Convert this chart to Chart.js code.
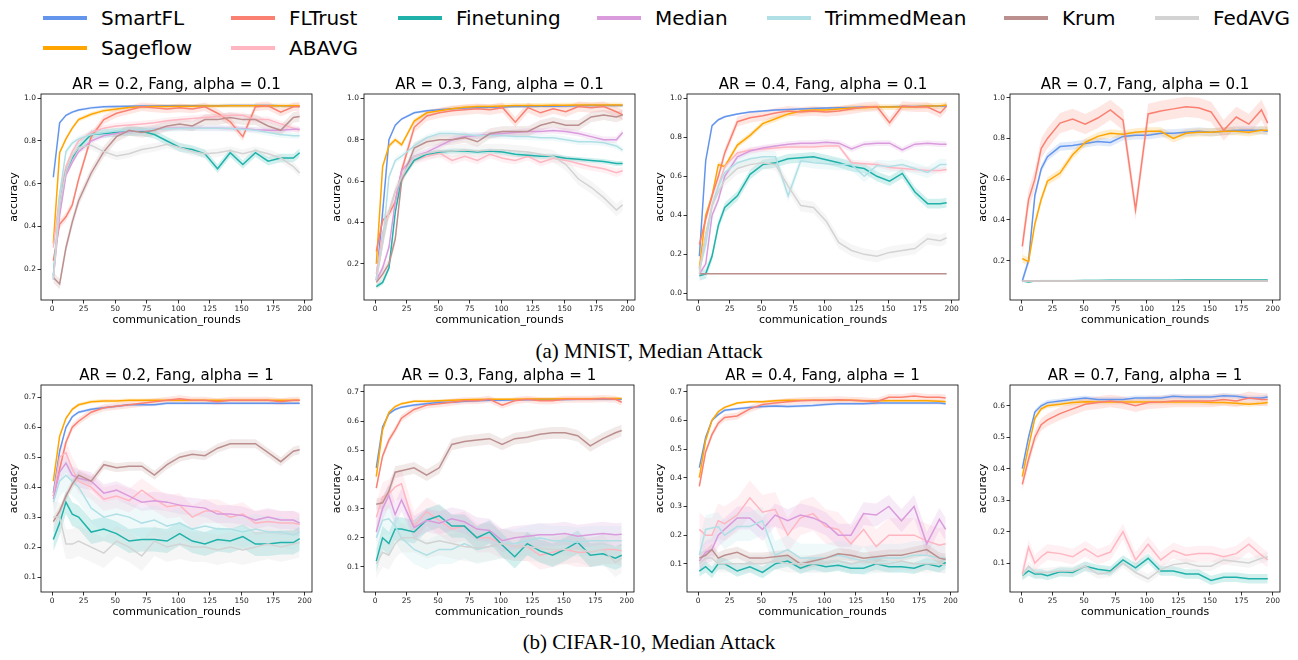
<!DOCTYPE html>
<html>
<head>
<meta charset="utf-8">
<script src="https://cdn.jsdelivr.net/npm/chart.js@4.4.1/dist/chart.umd.min.js"></script>
<style>
body { margin: 0; background: #fff; width: 1298px; height: 660px; position: relative; overflow: hidden; font-family: "DejaVu Sans", sans-serif; }
canvas { position: absolute; }
.leg { position: absolute; font-size: 20px; line-height: 24px; color: #000; white-space: nowrap; }
.leg i { position: absolute; left: -58px; top: 10px; width: 44px; height: 4px; }
.cap { position: absolute; left: 0; width: 1298px; text-align: center; font-family: "Liberation Serif", "Times New Roman", serif; font-size: 21px; color: #000; }
</style>
</head>
<body>
<div class="cap" style="top:339px">(a) MNIST, Median Attack</div>
<div class="cap" style="top:630px">(b) CIFAR-10, Median Attack</div>
<script>
var rounds = [1, 6, 11, 16, 21, 31, 41, 51, 61, 71, 81, 91, 101, 111, 121, 131, 141, 151, 161, 171, 181, 191, 196];
var xTicks = [0, 25, 50, 75, 100, 125, 150, 175, 200];
var yTicksMnist = [0.2, 0.4, 0.6, 0.8, 1.0];
var yTicksMnist04 = [0.0, 0.2, 0.4, 0.6, 0.8, 1.0];
var yTicksCifar = [0.1, 0.2, 0.3, 0.4, 0.5, 0.6, 0.7];
var yTicksCifar07 = [0.1, 0.2, 0.3, 0.4, 0.5, 0.6];

// series order in every table below
var methods = ['SmartFL', 'Sageflow', 'FLTrust', 'ABAVG', 'Finetuning', 'Median', 'TrimmedMean', 'Krum', 'FedAVG'];
var titles = ['AR = 0.2, Fang, alpha = 0.1', 'AR = 0.3, Fang, alpha = 0.1', 'AR = 0.4, Fang, alpha = 0.1', 'AR = 0.7, Fang, alpha = 0.1',
	'AR = 0.2, Fang, alpha = 1', 'AR = 0.3, Fang, alpha = 1', 'AR = 0.4, Fang, alpha = 1', 'AR = 0.7, Fang, alpha = 1'];

var mnist02 = [
	[0.63,0.885,0.92,0.935,0.945,0.955,0.96,0.962,0.963,0.964,0.964,0.965,0.965,0.965,0.965,0.965,0.966,0.966,0.966,0.966,0.965,0.964,0.962],
	[0.32,0.745,0.81,0.86,0.9,0.925,0.942,0.95,0.957,0.96,0.962,0.962,0.963,0.963,0.964,0.964,0.965,0.965,0.965,0.965,0.965,0.965,0.965],
	[0.24,0.41,0.445,0.5,0.62,0.82,0.9,0.93,0.945,0.96,0.955,0.95,0.955,0.95,0.96,0.93,0.89,0.82,0.96,0.965,0.935,0.96,0.962],
	[0.3,0.55,0.68,0.75,0.8,0.84,0.86,0.87,0.875,0.88,0.885,0.895,0.9,0.905,0.91,0.915,0.92,0.92,0.9,0.9,0.88,0.86,0.85],
	[0.17,0.5,0.66,0.72,0.77,0.83,0.835,0.84,0.845,0.845,0.83,0.8,0.77,0.76,0.74,0.67,0.745,0.69,0.745,0.705,0.72,0.72,0.745],
	[0.16,0.45,0.64,0.7,0.75,0.8,0.825,0.835,0.845,0.85,0.855,0.86,0.86,0.86,0.86,0.86,0.858,0.858,0.852,0.85,0.85,0.855,0.855],
	[0.15,0.55,0.75,0.79,0.81,0.83,0.84,0.848,0.85,0.853,0.855,0.857,0.858,0.86,0.86,0.86,0.858,0.855,0.85,0.84,0.83,0.825,0.825],
	[0.16,0.13,0.3,0.42,0.52,0.65,0.75,0.82,0.85,0.84,0.85,0.87,0.88,0.87,0.9,0.9,0.91,0.9,0.9,0.87,0.85,0.91,0.915],
	[0.15,0.5,0.66,0.73,0.77,0.78,0.75,0.73,0.74,0.76,0.77,0.785,0.77,0.75,0.74,0.745,0.755,0.74,0.755,0.74,0.72,0.68,0.65]
];
var mnist02Spread = [0.006, 0.01, 0.02, 0.015, 0.02, 0.012, 0.015, 0.025, 0.02];

var mnist03 = [
	[0.12,0.45,0.8,0.87,0.9,0.93,0.94,0.945,0.95,0.953,0.955,0.957,0.958,0.96,0.96,0.962,0.962,0.963,0.964,0.965,0.965,0.965,0.965],
	[0.2,0.67,0.77,0.8,0.775,0.89,0.93,0.94,0.95,0.957,0.96,0.96,0.963,0.965,0.966,0.966,0.967,0.967,0.968,0.968,0.968,0.968,0.968],
	[0.26,0.41,0.44,0.5,0.65,0.86,0.915,0.93,0.94,0.945,0.95,0.945,0.955,0.885,0.955,0.93,0.95,0.935,0.96,0.955,0.96,0.935,0.92],
	[0.15,0.35,0.45,0.55,0.62,0.7,0.72,0.735,0.7,0.72,0.7,0.73,0.71,0.7,0.72,0.69,0.71,0.7,0.685,0.67,0.66,0.64,0.65],
	[0.09,0.11,0.18,0.45,0.61,0.7,0.73,0.74,0.745,0.745,0.74,0.745,0.74,0.73,0.725,0.72,0.72,0.71,0.705,0.7,0.695,0.685,0.685],
	[0.12,0.18,0.28,0.5,0.65,0.72,0.74,0.77,0.8,0.815,0.82,0.825,0.83,0.835,0.84,0.84,0.845,0.84,0.83,0.815,0.8,0.8,0.835],
	[0.13,0.3,0.62,0.7,0.72,0.77,0.81,0.83,0.83,0.825,0.82,0.82,0.82,0.815,0.815,0.81,0.81,0.8,0.79,0.79,0.785,0.77,0.75],
	[0.11,0.15,0.2,0.32,0.6,0.76,0.79,0.8,0.8,0.81,0.79,0.83,0.84,0.84,0.84,0.87,0.885,0.87,0.87,0.91,0.92,0.91,0.92],
	[0.12,0.3,0.45,0.55,0.62,0.72,0.735,0.745,0.745,0.75,0.745,0.75,0.75,0.745,0.74,0.73,0.72,0.68,0.61,0.57,0.52,0.46,0.485]
];
var mnist03Spread = [0.006, 0.012, 0.025, 0.02, 0.012, 0.015, 0.015, 0.025, 0.03];

var mnist04 = [
	[0.19,0.68,0.86,0.89,0.905,0.92,0.93,0.935,0.94,0.942,0.945,0.948,0.95,0.952,0.953,0.955,0.956,0.957,0.958,0.958,0.96,0.96,0.96],
	[0.13,0.4,0.5,0.66,0.65,0.76,0.81,0.87,0.895,0.92,0.935,0.94,0.94,0.945,0.95,0.952,0.955,0.955,0.955,0.957,0.96,0.962,0.965],
	[0.25,0.38,0.5,0.6,0.72,0.88,0.9,0.91,0.925,0.935,0.93,0.935,0.93,0.935,0.945,0.955,0.958,0.875,0.96,0.955,0.955,0.925,0.96],
	[0.12,0.3,0.45,0.55,0.65,0.72,0.735,0.74,0.745,0.75,0.75,0.75,0.755,0.755,0.67,0.665,0.66,0.645,0.64,0.635,0.63,0.63,0.635],
	[0.09,0.1,0.19,0.35,0.44,0.5,0.61,0.66,0.67,0.69,0.695,0.7,0.685,0.67,0.65,0.64,0.6,0.575,0.615,0.52,0.46,0.46,0.465],
	[0.1,0.15,0.4,0.48,0.6,0.7,0.73,0.745,0.755,0.765,0.77,0.77,0.775,0.77,0.74,0.765,0.77,0.77,0.735,0.765,0.77,0.765,0.765],
	[0.12,0.25,0.45,0.55,0.62,0.67,0.69,0.7,0.7,0.5,0.68,0.67,0.665,0.66,0.66,0.6,0.655,0.65,0.66,0.64,0.62,0.66,0.66],
	[0.1,0.1,0.1,0.1,0.1,0.1,0.1,0.1,0.1,0.1,0.1,0.1,0.1,0.1,0.1,0.1,0.1,0.1,0.1,0.1,0.1,0.1,0.1],
	[0.1,0.3,0.45,0.52,0.58,0.64,0.66,0.67,0.66,0.55,0.45,0.44,0.37,0.26,0.22,0.2,0.19,0.21,0.22,0.23,0.28,0.27,0.285]
];
var mnist04Spread = [0.005, 0.015, 0.025, 0.015, 0.025, 0.015, 0.03, 0.002, 0.03];

var mnist07 = [
	[0.1,0.2,0.52,0.65,0.71,0.76,0.765,0.775,0.785,0.78,0.81,0.815,0.815,0.825,0.825,0.83,0.835,0.83,0.835,0.84,0.84,0.84,0.835],
	[0.21,0.195,0.38,0.5,0.59,0.63,0.72,0.78,0.81,0.825,0.82,0.83,0.835,0.835,0.8,0.825,0.83,0.83,0.835,0.835,0.83,0.84,0.84],
	[0.27,0.5,0.6,0.75,0.8,0.875,0.895,0.87,0.9,0.94,0.89,0.45,0.92,0.935,0.945,0.955,0.95,0.93,0.84,0.905,0.87,0.94,0.875],
	[0.1,0.1,0.1,0.1,0.1,0.1,0.1,0.1,0.1,0.1,0.1,0.1,0.1,0.1,0.1,0.1,0.1,0.1,0.1,0.1,0.1,0.1,0.1],
	[0.1,0.095,0.1,0.102,0.102,0.102,0.102,0.103,0.103,0.104,0.104,0.104,0.104,0.104,0.104,0.105,0.105,0.105,0.105,0.105,0.105,0.105,0.105],
	[0.1,0.1,0.1,0.1,0.1,0.1,0.1,0.1,0.1,0.1,0.1,0.1,0.1,0.1,0.1,0.1,0.1,0.1,0.1,0.1,0.1,0.1,0.1],
	[0.1,0.1,0.1,0.1,0.1,0.1,0.1,0.1,0.1,0.1,0.1,0.1,0.1,0.1,0.1,0.1,0.1,0.1,0.1,0.1,0.1,0.1,0.1],
	[0.1,0.1,0.1,0.1,0.1,0.1,0.1,0.1,0.1,0.1,0.1,0.1,0.1,0.1,0.1,0.1,0.1,0.1,0.1,0.1,0.1,0.1,0.1],
	[0.1,0.1,0.1,0.1,0.1,0.1,0.1,0.1,0.1,0.1,0.1,0.1,0.1,0.1,0.1,0.1,0.1,0.1,0.1,0.1,0.1,0.1,0.1]
];
var mnist07Spread = [0.02, 0.02, 0.05, 0.005, 0.004, 0.003, 0.003, 0.003, 0.005];

var cifar02 = [
	[0.38,0.52,0.6,0.635,0.65,0.66,0.665,0.67,0.675,0.675,0.675,0.68,0.68,0.68,0.68,0.68,0.68,0.68,0.68,0.68,0.68,0.68,0.68],
	[0.42,0.57,0.63,0.66,0.675,0.685,0.688,0.688,0.69,0.69,0.69,0.69,0.69,0.69,0.69,0.69,0.69,0.69,0.69,0.69,0.69,0.69,0.69],
	[0.37,0.46,0.55,0.6,0.62,0.65,0.665,0.67,0.675,0.68,0.685,0.69,0.695,0.69,0.69,0.685,0.69,0.69,0.69,0.69,0.685,0.69,0.69],
	[0.37,0.5,0.515,0.46,0.42,0.4,0.36,0.37,0.355,0.39,0.36,0.335,0.34,0.3,0.32,0.32,0.3,0.31,0.28,0.285,0.28,0.28,0.275],
	[0.225,0.28,0.35,0.31,0.3,0.25,0.26,0.245,0.22,0.225,0.225,0.22,0.245,0.22,0.21,0.225,0.22,0.235,0.21,0.21,0.215,0.215,0.228],
	[0.36,0.45,0.48,0.44,0.43,0.42,0.38,0.39,0.37,0.35,0.355,0.35,0.34,0.335,0.33,0.31,0.31,0.305,0.29,0.3,0.29,0.29,0.28],
	[0.35,0.42,0.44,0.42,0.4,0.33,0.3,0.31,0.3,0.28,0.29,0.27,0.28,0.26,0.27,0.26,0.26,0.25,0.26,0.25,0.25,0.24,0.25],
	[0.285,0.32,0.37,0.41,0.44,0.42,0.475,0.465,0.47,0.47,0.44,0.475,0.5,0.51,0.505,0.53,0.545,0.545,0.545,0.515,0.485,0.52,0.525],
	[0.3,0.3,0.21,0.21,0.22,0.2,0.18,0.22,0.2,0.17,0.22,0.2,0.21,0.2,0.2,0.19,0.2,0.19,0.2,0.21,0.2,0.21,0.215]
];
var cifar02Spread = [0.005, 0.006, 0.012, 0.04, 0.04, 0.03, 0.05, 0.015, 0.05];

var cifar03 = [
	[0.44,0.58,0.625,0.64,0.648,0.655,0.66,0.665,0.665,0.668,0.67,0.672,0.672,0.673,0.673,0.674,0.674,0.674,0.675,0.675,0.675,0.675,0.675],
	[0.41,0.57,0.63,0.65,0.66,0.668,0.668,0.67,0.672,0.673,0.674,0.675,0.675,0.675,0.676,0.676,0.676,0.677,0.677,0.677,0.678,0.678,0.678],
	[0.37,0.48,0.535,0.57,0.61,0.64,0.655,0.66,0.665,0.67,0.67,0.675,0.655,0.67,0.675,0.67,0.67,0.675,0.675,0.675,0.678,0.675,0.665],
	[0.27,0.34,0.35,0.375,0.385,0.24,0.29,0.26,0.23,0.24,0.2,0.2,0.18,0.17,0.17,0.14,0.15,0.16,0.15,0.15,0.16,0.16,0.155],
	[0.12,0.2,0.18,0.23,0.23,0.22,0.26,0.275,0.24,0.24,0.2,0.22,0.175,0.135,0.18,0.155,0.14,0.16,0.185,0.14,0.145,0.13,0.14],
	[0.22,0.3,0.345,0.28,0.33,0.235,0.26,0.25,0.265,0.255,0.23,0.225,0.19,0.2,0.205,0.21,0.21,0.215,0.205,0.21,0.215,0.21,0.212],
	[0.2,0.26,0.265,0.24,0.2,0.16,0.14,0.16,0.16,0.18,0.16,0.17,0.18,0.18,0.19,0.2,0.19,0.19,0.185,0.19,0.19,0.19,0.19],
	[0.315,0.32,0.36,0.425,0.43,0.44,0.415,0.44,0.52,0.53,0.535,0.54,0.52,0.54,0.545,0.555,0.56,0.56,0.55,0.515,0.54,0.56,0.568],
	[0.11,0.15,0.14,0.18,0.2,0.2,0.18,0.19,0.18,0.17,0.165,0.17,0.18,0.17,0.17,0.165,0.16,0.16,0.165,0.15,0.16,0.115,0.13]
];
var cifar03Spread = [0.005, 0.005, 0.012, 0.05, 0.04, 0.04, 0.05, 0.02, 0.05];

var cifar04 = [
	[0.435,0.54,0.6,0.62,0.635,0.64,0.645,0.648,0.65,0.648,0.65,0.652,0.655,0.658,0.658,0.658,0.66,0.66,0.66,0.66,0.66,0.66,0.658],
	[0.4,0.53,0.6,0.63,0.645,0.66,0.665,0.665,0.668,0.67,0.67,0.67,0.67,0.67,0.67,0.668,0.668,0.668,0.668,0.668,0.668,0.666,0.665],
	[0.37,0.49,0.55,0.59,0.61,0.615,0.64,0.655,0.66,0.665,0.668,0.67,0.67,0.672,0.67,0.668,0.665,0.68,0.68,0.685,0.68,0.68,0.678],
	[0.22,0.2,0.2,0.25,0.24,0.27,0.33,0.28,0.29,0.2,0.26,0.275,0.23,0.22,0.17,0.22,0.16,0.2,0.2,0.2,0.18,0.165,0.17],
	[0.075,0.09,0.07,0.1,0.1,0.075,0.09,0.07,0.1,0.11,0.085,0.1,0.09,0.095,0.085,0.085,0.1,0.09,0.09,0.085,0.1,0.09,0.105],
	[0.11,0.14,0.15,0.2,0.22,0.26,0.26,0.22,0.27,0.25,0.27,0.26,0.24,0.2,0.2,0.275,0.27,0.3,0.25,0.3,0.17,0.255,0.22],
	[0.13,0.22,0.225,0.23,0.2,0.23,0.23,0.25,0.13,0.15,0.12,0.12,0.12,0.13,0.12,0.11,0.12,0.12,0.12,0.13,0.13,0.12,0.12],
	[0.12,0.13,0.15,0.12,0.13,0.14,0.12,0.12,0.125,0.13,0.1,0.11,0.12,0.135,0.13,0.12,0.125,0.13,0.13,0.14,0.15,0.12,0.115],
	[0.1,0.12,0.12,0.1,0.1,0.1,0.1,0.1,0.11,0.1,0.1,0.1,0.1,0.11,0.1,0.11,0.1,0.1,0.11,0.1,0.1,0.1,0.095]
];
var cifar04Spread = [0.005, 0.005, 0.012, 0.06, 0.02, 0.04, 0.05, 0.02, 0.03];

var cifar07 = [
	[0.4,0.5,0.58,0.6,0.61,0.615,0.62,0.625,0.62,0.62,0.62,0.625,0.625,0.625,0.63,0.628,0.628,0.628,0.632,0.63,0.625,0.625,0.628],
	[0.375,0.47,0.56,0.59,0.6,0.605,0.61,0.613,0.612,0.612,0.612,0.612,0.612,0.612,0.612,0.612,0.612,0.61,0.61,0.608,0.605,0.608,0.61],
	[0.35,0.43,0.5,0.54,0.555,0.575,0.59,0.605,0.61,0.615,0.61,0.6,0.61,0.612,0.615,0.615,0.615,0.615,0.62,0.615,0.625,0.62,0.62],
	[0.065,0.15,0.1,0.12,0.135,0.13,0.12,0.145,0.12,0.135,0.2,0.11,0.16,0.11,0.14,0.125,0.13,0.13,0.12,0.13,0.16,0.125,0.11],
	[0.06,0.075,0.065,0.065,0.06,0.072,0.07,0.09,0.08,0.075,0.11,0.085,0.115,0.075,0.075,0.065,0.065,0.045,0.055,0.055,0.05,0.05,0.05],
	null,
	null,
	null,
	[0.06,0.09,0.07,0.07,0.07,0.075,0.075,0.09,0.065,0.07,0.1,0.07,0.05,0.08,0.095,0.1,0.09,0.09,0.11,0.105,0.1,0.115,0.12]
];
var cifar07Spread = [0.008, 0.008, 0.02, 0.025, 0.015, 0, 0, 0, 0.015];

var colors = ['#6495ED', '#FFA500', '#FA8072', '#FFB6C1', '#20B2AA', '#DA9BDD', '#B0E0E6', '#BC8F8F', '#D3D3D3'];
var FONT = '"DejaVu Sans", sans-serif';

function rgba(hex, a) {
	var n = parseInt(hex.slice(1), 16);
	return 'rgba(' + (n >> 16) + ',' + ((n >> 8) & 255) + ',' + (n & 255) + ',' + a + ')';
}

function buildDatasets(series, spread) {
	var ds = [];
	methods.forEach(function (name, i) {
		var vals = series[i];
		if (!vals) return;
		var s = spread[i];
		ds.push({ data: vals.map(function (v, k) { return { x: rounds[k], y: v + s }; }),
			borderWidth: 0, pointRadius: 0, fill: '+1', backgroundColor: rgba(colors[i], 0.2), order: 200 - i });
		ds.push({ data: vals.map(function (v, k) { return { x: rounds[k], y: v - s }; }),
			borderWidth: 0, pointRadius: 0, fill: false, order: 200 - i });
		ds.push({ label: name, data: vals.map(function (v, k) { return { x: rounds[k], y: v }; }),
			borderColor: colors[i], borderWidth: 1.5, pointRadius: 0, fill: false, tension: 0, order: 100 - i });
	});
	return ds;
}

// matplotlib style box around each axes
var frame = {
	id: 'frame',
	afterDatasetsDraw: function (chart) {
		var a = chart.chartArea, c = chart.ctx;
		c.save();
		c.strokeStyle = '#000';
		c.lineWidth = 0.8;
		c.strokeRect(a.left, a.top, a.right - a.left, a.bottom - a.top);
		c.restore();
	}
};

var panels = [
	{ series: mnist02, spread: mnist02Spread, yTicks: yTicksMnist, yMin: 0.055, yMax: 1.02, box: [41, 94, 312, 300] },
	{ series: mnist03, spread: mnist03Spread, yTicks: yTicksMnist, yMin: 0.025, yMax: 1.021, box: [364, 94, 635, 300] },
	{ series: mnist04, spread: mnist04Spread, yTicks: yTicksMnist04, yMin: -0.034, yMax: 1.022, box: [687, 94, 959, 300] },
	{ series: mnist07, spread: mnist07Spread, yTicks: yTicksMnist, yMin: 0.007, yMax: 1.018, box: [1010, 94, 1280, 300] },
	{ series: cifar02, spread: cifar02Spread, yTicks: yTicksCifar, yMin: 0.05, yMax: 0.741, box: [41, 385, 312, 592] },
	{ series: cifar03, spread: cifar03Spread, yTicks: yTicksCifar, yMin: 0.014, yMax: 0.724, box: [364, 385, 634, 592] },
	{ series: cifar04, spread: cifar04Spread, yTicks: yTicksCifar, yMin: 0.002, yMax: 0.723, box: [687, 385, 958, 592] },
	{ series: cifar07, spread: cifar07Spread, yTicks: yTicksCifar07, yMin: 0.008, yMax: 0.666, box: [1010, 385, 1280, 592] }
];

var tickGrid = { display: true, drawOnChartArea: false, drawTicks: true, tickLength: 3.5, color: '#000', lineWidth: 0.8 };

panels.forEach(function (p, idx) {
	var b = p.box;
	var cv = document.createElement('canvas');
	cv.width = (b[2] - b[0]) + 41 + 13;
	cv.height = (b[3] - b[1]) + 24 + 30;
	cv.style.left = (b[0] - 41) + 'px';
	cv.style.top = (b[1] - 24) + 'px';
	document.body.appendChild(cv);

	new Chart(cv.getContext('2d'), {
		type: 'line',
		data: { datasets: buildDatasets(p.series, p.spread) },
		options: {
			responsive: false,
			animation: false,
			events: [],
			layout: { padding: { left: 0, right: 13, top: 0, bottom: 0 } },
			plugins: {
				legend: { display: false },
				tooltip: { enabled: false },
				title: { display: true, text: titles[idx], color: '#000', fullSize: false,
					font: { family: FONT, size: 15, weight: 'normal' }, padding: { top: 6, bottom: 0 } }
			},
			scales: {
				x: {
					type: 'linear', min: -8.75, max: 205.75,
					afterFit: function (s) { s.height = 30; },
					afterBuildTicks: function (s) { s.ticks = xTicks.map(function (v) { return { value: v }; }); },
					ticks: { color: '#222', font: { family: FONT, size: 7.5 }, padding: 1, maxRotation: 0, autoSkip: false,
						callback: function (v) { return String(v); } },
					grid: tickGrid,
					border: { display: false },
					title: { display: true, text: 'communication_rounds', color: '#000',
						font: { family: FONT, size: 11 }, padding: { top: 0, bottom: 3 } }
				},
				y: {
					min: p.yMin, max: p.yMax,
					afterFit: function (s) { s.width = 41; },
					afterBuildTicks: function (s) { s.ticks = p.yTicks.map(function (v) { return { value: v }; }); },
					ticks: { color: '#222', font: { family: FONT, size: 7.5 }, padding: 1.5, autoSkip: false,
						callback: function (v) { return v.toFixed(1); } },
					grid: tickGrid,
					border: { display: false },
					title: { display: true, text: 'accuracy', color: '#000',
						font: { family: FONT, size: 11 }, padding: { top: 8, bottom: 0 } }
				}
			}
		},
		plugins: [frame]
	});
});

// legend laid out like the matplotlib one (7 columns, 2 rows)
var legendSlots = [[43, 6], [43, 36], [231, 6], [231, 36], [398, 6], [597, 6], [767, 6], [1004, 6], [1155, 6]];
methods.forEach(function (name, i) {
	var d = document.createElement('div');
	d.className = 'leg';
	d.style.left = (legendSlots[i][0] + 58) + 'px';
	d.style.top = legendSlots[i][1] + 'px';
	d.innerHTML = '<i style="background:' + colors[i] + '"></i>' + name;
	document.body.appendChild(d);
});
</script>
</body>
</html>
